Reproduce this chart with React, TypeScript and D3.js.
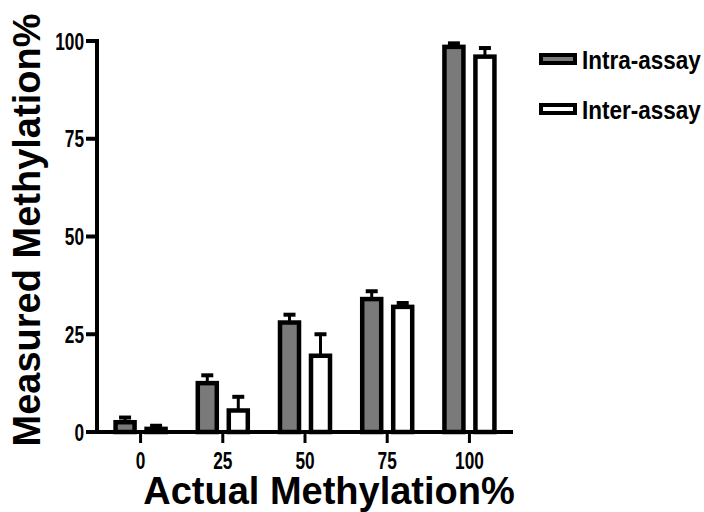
import React from "react";
import * as d3 from "d3";

const categories = ["0", "25", "50", "75", "100"];
const seriesNames = ["Intra-assay", "Inter-assay"];
const intraValues = [2.5, 12.5, 28, 34, 98.5];
const intraErrors = [1.2, 2, 2, 2, 0.9];
const interValues = [0.8, 5.5, 19.5, 32, 96];
const interErrors = [0.8, 3.5, 5.5, 1, 2.2];
const yTicks = [0, 25, 50, 75, 100];

const W = 704;
const H = 512;
const axisX = 97;
const axisY = 432;
const topY = 41;
const rightX = 513;

const fills = ["#7a7a7a", "#ffffff"];

export default function App() {
  const x0 = d3.scalePoint<string>().domain(categories).range([axisX, rightX]).padding(0.53);
  const x1 = d3.scaleBand<string>().domain(seriesNames).range([-25, 25]).paddingInner(0.387);
  const y = d3.scaleLinear().domain([0, 100]).range([axisY, topY]);

  const series = [
    { name: seriesNames[0], values: intraValues, errors: intraErrors, fill: fills[0] },
    { name: seriesNames[1], values: interValues, errors: interErrors, fill: fills[1] },
  ];

  const tickFont = "'Liberation Sans', Arial, sans-serif";

  return (
    <svg
      width={W}
      height={H}
      viewBox={`0 0 ${W} ${H}`}
      style={{ position: "absolute", left: 0, top: 0, background: "#fff" }}
    >
      <rect x={0} y={0} width={W} height={H} fill="#fff" />
      {/* bars */}
      {series.map((s) =>
        categories.map((c, i) => {
          const bx = (x0(c) as number) + (x1(s.name) as number);
          const bw = x1.bandwidth();
          const vy = y(s.values[i]);
          const ey = y(s.values[i] + s.errors[i]);
          const cx = bx + bw / 2;
          return (
            <g key={s.name + c}>
              <line x1={cx} x2={cx} y1={vy} y2={ey} stroke="#000" strokeWidth={3} />
              <line x1={cx - 6} x2={cx + 6} y1={ey} y2={ey} stroke="#000" strokeWidth={4} />
              <rect
                x={bx}
                y={vy}
                width={bw}
                height={axisY - vy}
                fill={s.fill}
                stroke="#000"
                strokeWidth={4.5}
              />
            </g>
          );
        })
      )}
      {/* y axis */}
      <line x1={axisX} x2={axisX} y1={topY - 2} y2={axisY + 2} stroke="#000" strokeWidth={4} />
      {yTicks.map((t) => (
        <g key={"yt" + t}>
          <line x1={axisX - 11} x2={axisX} y1={y(t)} y2={y(t)} stroke="#000" strokeWidth={4} />
          <text
            transform={`translate(${axisX - 13},${y(t) + 8.5}) scale(0.72,1)`}
            textAnchor="end"
            fontFamily={tickFont}
            fontWeight="bold"
            fontSize={24}
            fill="#000"
          >
            {t}
          </text>
        </g>
      ))}
      {/* x axis */}
      <line x1={axisX - 2} x2={rightX} y1={axisY} y2={axisY} stroke="#000" strokeWidth={4} />
      {categories.map((c) => (
        <g key={"xt" + c}>
          <line x1={x0(c)} x2={x0(c)} y1={axisY} y2={axisY + 11} stroke="#000" strokeWidth={3} />
          <text
            transform={`translate(${x0(c)},${axisY + 37}) scale(0.72,1)`}
            textAnchor="middle"
            fontFamily={tickFont}
            fontWeight="bold"
            fontSize={24}
            fill="#000"
          >
            {c}
          </text>
        </g>
      ))}
      {/* axis titles */}
      <text
        x={329}
        y={504}
        textAnchor="middle"
        fontFamily="'Liberation Sans', Arial, sans-serif"
        fontWeight="bold"
        fontSize={38}
        fill="#000"
      >
        Actual Methylation%
      </text>
      <text
        transform={`translate(40,230) rotate(-90)`}
        textAnchor="middle"
        fontFamily="'Liberation Sans', Arial, sans-serif"
        fontWeight="bold"
        fontSize={38}
        fill="#000"
      >
        Measured Methylation%
      </text>
      {/* legend */}
      {series.map((s, i) => (
        <g key={"lg" + s.name}>
          <rect x={541} y={55 + i * 50} width={34} height={8} fill={s.fill} stroke="#000" strokeWidth={4} />
          <text
            transform={`translate(582,${69 + i * 50}) scale(0.9,1)`}
            fontFamily={tickFont}
            fontWeight="bold"
            fontSize={25}
            fill="#000"
          >
            {s.name}
          </text>
        </g>
      ))}
    </svg>
  );
}
